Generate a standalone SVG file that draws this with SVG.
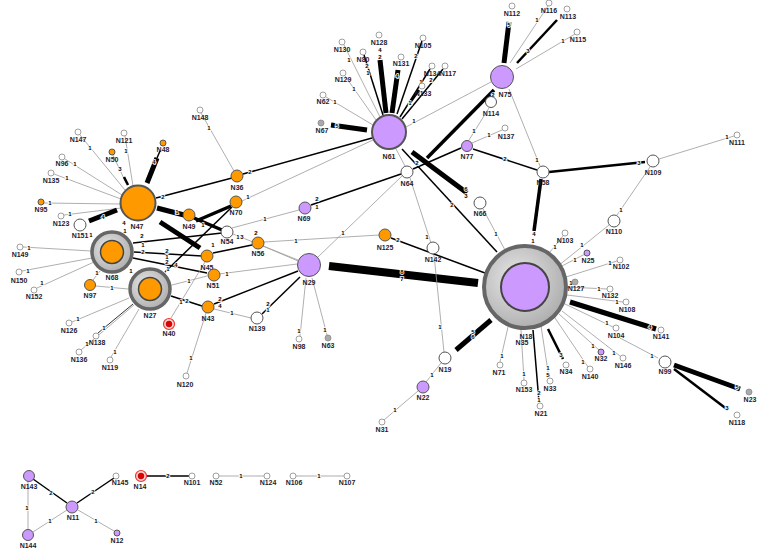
<svg xmlns="http://www.w3.org/2000/svg" width="768" height="554" viewBox="0 0 768 554">
<style>
.g{stroke:#9a9a9a;stroke-width:0.8;fill:none}
.b{stroke:#000;stroke-width:1.5;fill:none}
.b2{stroke:#000;stroke-width:2.5;fill:none}
.b3{stroke:#000;stroke-width:3.5;fill:none}
.b4{stroke:#000;stroke-width:5;fill:none}
.b5{stroke:#000;stroke-width:8;fill:none}
.nl{font-family:"Liberation Sans",Arial,sans-serif;font-weight:bold;font-size:7px;fill:#1c1c30;text-anchor:middle}
.el{font-family:"Liberation Sans",Arial,sans-serif;font-weight:bold;font-size:6px;fill:#000;text-anchor:middle;stroke:#fff;stroke-width:1.6;paint-order:stroke}
.o{fill:#ff9900;stroke:#555;stroke-width:1}
.p{fill:#cc99ff;stroke:#555;stroke-width:1}
.w{fill:#fff;stroke:#555;stroke-width:1}
.ws{fill:#fff;stroke:#888;stroke-width:0.8}
.gs{fill:#aaa;stroke:#888;stroke-width:0.8}
.ring{fill:url(#rg);stroke:#666}
</style>
<defs>
<radialGradient id="rg" cx="0.4" cy="0.4" r="0.7">
<stop offset="0" stop-color="#e8e8e8"/><stop offset="1" stop-color="#a8a8a8"/>
</radialGradient>
</defs>
<rect width="768" height="554" fill="#fff"/>
<g id="connectors">
<!-- N47 cluster -->
<line class="g" x1="80" y1="135" x2="125" y2="190"/>
<line class="g" x1="65" y1="159" x2="122" y2="195"/>
<line class="g" x1="54" y1="174" x2="121" y2="199"/>
<line class="g" x1="44" y1="203" x2="120" y2="204"/>
<line class="g" x1="64" y1="215" x2="121" y2="208"/>
<line class="g" x1="125" y1="136" x2="133" y2="186"/>
<line class="g" x1="113" y1="155" x2="126" y2="183"/>
<line class="b2" x1="124" y1="177" x2="128" y2="185"/>
<line class="b4" x1="147" y1="183" x2="157" y2="158"/>
<line class="b" x1="157" y1="158" x2="160" y2="151"/>
<line class="b4" x1="89" y1="221" x2="117" y2="210"/>
<line class="g" x1="201" y1="113" x2="234" y2="171"/>
<line class="b" x1="156" y1="198" x2="232" y2="178"/>
<line class="b4" x1="157" y1="208" x2="184" y2="215"/>
<line class="b3" x1="194" y1="218" x2="222" y2="230"/>
<line class="b4" x1="160" y1="222" x2="200" y2="248"/>
<line class="b3" x1="231" y1="206" x2="196" y2="221"/>
<!-- N68 / N27 cluster -->
<line class="g" x1="23" y1="247" x2="91" y2="251"/>
<line class="g" x1="22" y1="271" x2="92" y2="258"/>
<line class="g" x1="37" y1="288" x2="94" y2="262"/>
<line class="g" x1="93" y1="280" x2="100" y2="271"/>
<line class="g" x1="96" y1="286" x2="128" y2="289"/>
<line class="b" x1="133" y1="243" x2="222" y2="233"/>
<line class="b" x1="134" y1="252" x2="202" y2="256"/>
<line class="b" x1="133" y1="258" x2="207" y2="273"/>
<line class="b" x1="165" y1="272" x2="232" y2="207"/>
<line class="g" x1="72" y1="322" x2="129" y2="298"/>
<line class="b" style="stroke-width:0.8" x1="98" y1="333" x2="133" y2="304"/>
<line class="g" x1="81" y1="350" x2="134" y2="305"/>
<line class="g" x1="111" y1="357" x2="139" y2="309"/>
<line class="g" x1="172" y1="285" x2="207" y2="276"/>
<line class="b" x1="171" y1="296" x2="202" y2="306"/>
<line class="g" x1="171" y1="318" x2="205" y2="262"/>
<!-- N43 / N29 -->
<line class="g" x1="206" y1="313" x2="187" y2="373"/>
<line class="g" x1="214" y1="309" x2="251" y2="318"/>
<line class="b" x1="214" y1="304" x2="298" y2="271"/>
<line class="g" x1="219" y1="274" x2="297" y2="264"/>
<line class="b" x1="262" y1="314" x2="300" y2="277"/>
<line class="g" x1="306" y1="278" x2="300" y2="336"/>
<line class="g" x1="312" y1="278" x2="327" y2="335"/>
<line class="b5" x1="329" y1="266" x2="478" y2="283"/>
<line class="g" x1="318" y1="257" x2="402" y2="176"/>
<line class="g" x1="232" y1="228" x2="299" y2="210"/>
<line class="b" x1="311" y1="205" x2="401" y2="174"/>
<line class="b" x1="413" y1="169" x2="461" y2="148"/>
<line class="g" x1="264" y1="242" x2="379" y2="235"/>
<line class="g" x1="263" y1="246" x2="298" y2="261"/>
<line class="g" x1="233" y1="234" x2="298" y2="260"/>
<line class="b" x1="213" y1="253" x2="252" y2="245"/>
<line class="b" x1="243" y1="174" x2="372" y2="138"/>
<line class="g" x1="242" y1="201" x2="373" y2="140"/>
<!-- N61 cluster -->
<line class="g" x1="344" y1="45" x2="380" y2="117"/>
<line class="b" x1="364" y1="55" x2="383" y2="115"/>
<line class="b4" x1="380" y1="60" x2="386" y2="113"/>
<line class="b4" x1="398" y1="70" x2="392" y2="113"/>
<line class="b" x1="422" y1="41" x2="397" y2="114"/>
<line class="b" x1="430" y1="69" x2="400" y2="117"/>
<line class="b" x1="443" y1="69" x2="402" y2="119"/>
<line class="b2" x1="409" y1="104" x2="419" y2="90"/>
<line class="g" x1="345" y1="76" x2="376" y2="120"/>
<line class="g" x1="326" y1="97" x2="373" y2="125"/>
<line class="b4" x1="331" y1="125" x2="367" y2="130"/>
<line class="g" x1="406" y1="127" x2="491" y2="82"/>
<line class="g" x1="396" y1="149" x2="405" y2="166"/>
<line class="g" x1="410" y1="178" x2="431" y2="243"/>
<line class="b" x1="402" y1="149" x2="497" y2="252"/>
<line class="b4" x1="412" y1="152" x2="467" y2="193"/>
<line class="b3" x1="427" y1="158" x2="494" y2="90"/>
<line class="b" x1="391" y1="238" x2="485" y2="273"/>
<line class="g" x1="434" y1="255" x2="444" y2="352"/>
<line class="g" x1="483" y1="209" x2="505" y2="250"/>
<!-- N75 / N58 -->
<line class="b4" x1="504" y1="63" x2="509" y2="22"/>
<line class="g" x1="510" y1="63" x2="548" y2="6"/>
<line class="b2" x1="517" y1="63" x2="557" y2="20"/>
<line class="g" x1="516" y1="69" x2="575" y2="34"/>
<line class="g" x1="489" y1="108" x2="469" y2="140"/>
<line class="g" x1="472" y1="143" x2="502" y2="130"/>
<line class="b" x1="473" y1="149" x2="537" y2="170"/>
<line class="g" x1="509" y1="89" x2="540" y2="166"/>
<line class="b3" x1="541" y1="179" x2="534" y2="231"/>
<line class="b2" x1="549" y1="172" x2="645" y2="162"/>
<line class="g" x1="659" y1="159" x2="734" y2="136"/>
<line class="g" x1="650" y1="167" x2="617" y2="215"/>
<line class="g" x1="609" y1="225" x2="558" y2="266"/>
<!-- N18 cluster -->
<line class="g" x1="563" y1="236" x2="550" y2="252"/>
<line class="g" x1="585" y1="254" x2="562" y2="266"/>
<line class="g" x1="617" y1="261" x2="566" y2="277"/>
<line class="g" x1="568" y1="287" x2="607" y2="289"/>
<line class="g" x1="567" y1="295" x2="623" y2="302"/>
<line class="b4" x1="570" y1="302" x2="656" y2="329"/>
<line class="g" x1="565" y1="304" x2="613" y2="327"/>
<line class="g" x1="620" y1="338" x2="658" y2="358"/>
<line class="g" x1="562" y1="311" x2="620" y2="356"/>
<line class="g" x1="559" y1="314" x2="599" y2="350"/>
<line class="g" x1="555" y1="318" x2="588" y2="367"/>
<line class="b2" x1="548" y1="329" x2="563" y2="359"/>
<line class="g" x1="541" y1="326" x2="549" y2="378"/>
<line class="b" x1="533" y1="330" x2="539" y2="402"/>
<line class="g" x1="521" y1="330" x2="524" y2="380"/>
<line class="g" x1="508" y1="327" x2="500" y2="362"/>
<line class="b4" x1="456" y1="350" x2="491" y2="320"/>
<line class="g" x1="441" y1="363" x2="426" y2="382"/>
<line class="g" x1="418" y1="391" x2="384" y2="420"/>
<line class="b4" x1="674" y1="365" x2="740" y2="389"/>
<line class="b2" x1="674" y1="369" x2="728" y2="410"/>
<!-- bottom components -->
<line class="g" x1="28" y1="481" x2="28" y2="529"/>
<line class="b" x1="33" y1="479" x2="67" y2="503"/>
<line class="b" x1="77" y1="503" x2="114" y2="478"/>
<line class="g" x1="67" y1="510" x2="33" y2="532"/>
<line class="g" x1="78" y1="510" x2="114" y2="531"/>
<line class="b" x1="146" y1="476" x2="189" y2="476"/>
<line class="g" x1="219" y1="476" x2="264" y2="476"/>
<line class="g" x1="296" y1="476" x2="344" y2="476"/>
</g>
<g id="edge-labels">
<text class="el" x="90" y="150">1</text>
<text class="el" x="75" y="166">1</text>
<text class="el" x="67" y="180">1</text>
<text class="el" x="50" y="205">1</text>
<text class="el" x="70" y="216">1</text>
<text class="el" x="126" y="153">1</text>
<text class="el" x="120" y="171">3</text>
<text class="el" x="154" y="164">4</text>
<text class="el" x="103" y="219">4</text>
<text class="el" x="91" y="237">1</text>
<text class="el" x="209" y="130">1</text>
<text class="el" x="163" y="199">2</text>
<text class="el" x="177" y="214">1</text>
<text class="el" x="203" y="227">1</text>
<text class="el" x="124" y="225">4</text>
<text class="el" x="125" y="233">1</text>
<text class="el" x="29" y="250">1</text>
<text class="el" x="28" y="273">1</text>
<text class="el" x="42" y="285">1</text>
<text class="el" x="97" y="275">1</text>
<text class="el" x="112" y="290">1</text>
<text class="el" x="131" y="273">1</text>
<text class="el" x="142" y="238">2</text>
<text class="el" x="143" y="247">1</text>
<text class="el" x="143" y="254">2</text>
<text class="el" x="167" y="253">2</text>
<text class="el" x="167" y="259">1</text>
<text class="el" x="167" y="264">2</text>
<text class="el" x="176" y="267">4</text>
<text class="el" x="168" y="271">1</text>
<text class="el" x="78" y="321">1</text>
<text class="el" x="104" y="330">1</text>
<text class="el" x="87" y="346">1</text>
<text class="el" x="115" y="354">1</text>
<text class="el" x="189" y="283">1</text>
<text class="el" x="181" y="304">1</text>
<text class="el" x="187" y="303">2</text>
<text class="el" x="191" y="360">1</text>
<text class="el" x="232" y="315">1</text>
<text class="el" x="220" y="301">2</text>
<text class="el" x="220" y="308">4</text>
<text class="el" x="227" y="276">1</text>
<text class="el" x="268" y="306">2</text>
<text class="el" x="268" y="312">1</text>
<text class="el" x="299" y="333">1</text>
<text class="el" x="325" y="332">1</text>
<text class="el" x="402" y="274">8</text>
<text class="el" x="402" y="281">7</text>
<text class="el" x="343" y="235">1</text>
<text class="el" x="265" y="221">1</text>
<text class="el" x="317" y="201">2</text>
<text class="el" x="317" y="209">1</text>
<text class="el" x="296" y="243">1</text>
<text class="el" x="238" y="239">1</text>
<text class="el" x="242" y="239">3</text>
<text class="el" x="213" y="247">1</text>
<text class="el" x="256" y="235">2</text>
<text class="el" x="250" y="174">2</text>
<text class="el" x="248" y="199">1</text>
<text class="el" x="349" y="62">1</text>
<text class="el" x="367" y="68">2</text>
<text class="el" x="368" y="75">1</text>
<text class="el" x="380" y="52">4</text>
<text class="el" x="380" y="59">2</text>
<text class="el" x="397" y="78">4</text>
<text class="el" x="416" y="58">2</text>
<text class="el" x="421" y="84">1</text>
<text class="el" x="431" y="82">2</text>
<text class="el" x="410" y="105">1</text>
<text class="el" x="354" y="91">1</text>
<text class="el" x="335" y="104">1</text>
<text class="el" x="337" y="128">5</text>
<text class="el" x="414" y="123">1</text>
<text class="el" x="427" y="239">1</text>
<text class="el" x="452" y="207">2</text>
<text class="el" x="466" y="191">6</text>
<text class="el" x="466" y="198">3</text>
<text class="el" x="417" y="165">2</text>
<text class="el" x="398" y="242">2</text>
<text class="el" x="440" y="329">1</text>
<text class="el" x="496" y="236">1</text>
<text class="el" x="509" y="27">5</text>
<text class="el" x="537" y="22">1</text>
<text class="el" x="528" y="53">3</text>
<text class="el" x="563" y="43">1</text>
<text class="el" x="493" y="97">2</text>
<text class="el" x="474" y="133">1</text>
<text class="el" x="489" y="137">1</text>
<text class="el" x="505" y="161">2</text>
<text class="el" x="537" y="162">1</text>
<text class="el" x="534" y="236">4</text>
<text class="el" x="533" y="243">1</text>
<text class="el" x="639" y="165">3</text>
<text class="el" x="727" y="139">1</text>
<text class="el" x="621" y="212">1</text>
<text class="el" x="582" y="247">1</text>
<text class="el" x="555" y="249">1</text>
<text class="el" x="575" y="262">1</text>
<text class="el" x="610" y="265">1</text>
<text class="el" x="571" y="285">1</text>
<text class="el" x="599" y="291">1</text>
<text class="el" x="617" y="304">1</text>
<text class="el" x="650" y="329">4</text>
<text class="el" x="607" y="325">1</text>
<text class="el" x="652" y="358">1</text>
<text class="el" x="614" y="355">1</text>
<text class="el" x="593" y="348">1</text>
<text class="el" x="583" y="364">1</text>
<text class="el" x="561" y="357">3</text>
<text class="el" x="548" y="370">1</text>
<text class="el" x="548" y="377">5</text>
<text class="el" x="539" y="395">2</text>
<text class="el" x="539" y="402">1</text>
<text class="el" x="524" y="376">1</text>
<text class="el" x="502" y="358">1</text>
<text class="el" x="473" y="334">5</text>
<text class="el" x="473" y="339">6</text>
<text class="el" x="432" y="377">1</text>
<text class="el" x="395" y="412">1</text>
<text class="el" x="737" y="389">5</text>
<text class="el" x="727" y="410">3</text>
<text class="el" x="27" y="510">1</text>
<text class="el" x="51" y="495">2</text>
<text class="el" x="93" y="494">2</text>
<text class="el" x="50" y="523">1</text>
<text class="el" x="96" y="523">1</text>
<text class="el" x="168" y="478">2</text>
<text class="el" x="241" y="478">1</text>
<text class="el" x="319" y="478">1</text>
</g>
<!-- nodes -->
<g id="N18"><circle class="ring" cx="525" cy="287" r="41" stroke-width="4"/><circle cx="525" cy="287" r="24" fill="#cc99ff" stroke="#444" stroke-width="2"/><text class="nl" x="526" y="339">N18</text></g>
<g id="N35"><text class="nl" x="522" y="345">N35</text></g>
<g id="N68"><circle class="ring" cx="112" cy="252" r="20" stroke-width="3.5"/><circle cx="112" cy="252" r="11.5" fill="#ff9900" stroke="#444" stroke-width="1.5"/><text class="nl" x="112" y="280">N68</text></g>
<g id="N27"><circle class="ring" cx="150" cy="289" r="20" stroke-width="3.5"/><circle cx="150" cy="289" r="11.5" fill="#ff9900" stroke="#444" stroke-width="1.5"/><text class="nl" x="150" y="318">N27</text></g>
<g id="N47"><circle cx="138" cy="203" r="17.5" fill="#ff9900" stroke="#555" stroke-width="2"/><text class="nl" x="137" y="229">N47</text></g>
<g id="N61"><circle cx="389" cy="132" r="17" fill="#cc99ff" stroke="#555" stroke-width="2"/><text class="nl" x="389" y="159">N61</text></g>
<g id="N75"><circle class="p" cx="502" cy="77" r="11.5" stroke-width="1.5"/><text class="nl" x="505" y="97">N75</text></g>
<g id="N29"><circle class="p" cx="309" cy="265" r="11.5" stroke-width="1.5"/><text class="nl" x="309" y="285">N29</text></g>
<g id="N49"><circle class="o" cx="189" cy="215" r="6"/><text class="nl" x="189" y="229">N49</text></g>
<g id="N36"><circle class="o" cx="237" cy="176" r="6"/><text class="nl" x="237" y="190">N36</text></g>
<g id="N70"><circle class="o" cx="236" cy="202" r="6"/><text class="nl" x="236" y="215">N70</text></g>
<g id="N69"><circle class="p" cx="305" cy="208" r="6"/><text class="nl" x="304" y="221">N69</text></g>
<g id="N54"><circle class="w" cx="227" cy="232" r="6"/><text class="nl" x="227" y="244">N54</text></g>
<g id="N56"><circle class="o" cx="258" cy="243" r="6"/><text class="nl" x="258" y="256">N56</text></g>
<g id="N45"><circle class="o" cx="207" cy="256" r="6"/><text class="nl" x="207" y="270">N45</text></g>
<g id="N51"><circle class="o" cx="214" cy="275" r="6"/><text class="nl" x="213" y="288">N51</text></g>
<g id="N43"><circle class="o" cx="208" cy="307" r="6"/><text class="nl" x="208" y="321">N43</text></g>
<g id="N139"><circle class="w" cx="257" cy="318" r="6"/><text class="nl" x="257" y="331">N139</text></g>
<g id="N97"><circle class="o" cx="90" cy="285" r="5.5"/><text class="nl" x="90" y="298">N97</text></g>
<g id="N40"><circle cx="169" cy="324" r="5.5" fill="#ffd0d0" stroke="#ee3333" stroke-width="1.2"/><circle cx="169" cy="324" r="3" fill="#e00000" stroke="#900" stroke-width="0.5"/><text class="nl" x="169" y="336">N40</text></g>
<g id="N151"><circle class="w" cx="80" cy="225" r="6"/><text class="nl" x="80" y="238">N151</text></g>
<g id="N123"><circle class="ws" cx="61" cy="216" r="3"/><text class="nl" x="61" y="226">N123</text></g>
<g id="N95"><circle class="o" cx="41" cy="202" r="3" stroke-width="0.6"/><text class="nl" x="41" y="212">N95</text></g>
<g id="N135"><circle class="ws" cx="51" cy="173" r="3"/><text class="nl" x="51" y="183">N135</text></g>
<g id="N96"><circle class="ws" cx="62" cy="157" r="3"/><text class="nl" x="62" y="166">N96</text></g>
<g id="N147"><circle class="ws" cx="78" cy="132" r="3"/><text class="nl" x="78" y="142">N147</text></g>
<g id="N121"><circle class="ws" cx="124" cy="133" r="3"/><text class="nl" x="124" y="143">N121</text></g>
<g id="N50"><circle class="o" cx="112" cy="152" r="3" stroke-width="0.6"/><text class="nl" x="112" y="162">N50</text></g>
<g id="N48"><circle class="o" cx="163" cy="143" r="3" stroke-width="0.6"/><text class="nl" x="163" y="152">N48</text></g>
<g id="N148"><circle class="ws" cx="200" cy="110" r="3"/><text class="nl" x="200" y="120">N148</text></g>
<g id="N149"><circle class="ws" cx="20" cy="247" r="3"/><text class="nl" x="20" y="257">N149</text></g>
<g id="N150"><circle class="ws" cx="19" cy="272" r="3"/><text class="nl" x="19" y="283">N150</text></g>
<g id="N152"><circle class="ws" cx="34" cy="290" r="3"/><text class="nl" x="34" y="299">N152</text></g>
<g id="N126"><circle class="ws" cx="69" cy="323" r="3"/><text class="nl" x="69" y="333">N126</text></g>
<g id="N138"><circle class="ws" cx="96" cy="336" r="3"/><text class="nl" x="97" y="345">N138</text></g>
<g id="N136"><circle class="ws" cx="79" cy="352" r="3"/><text class="nl" x="79" y="362">N136</text></g>
<g id="N119"><circle class="ws" cx="110" cy="360" r="3"/><text class="nl" x="110" y="370">N119</text></g>
<g id="N120"><circle class="ws" cx="186" cy="376" r="3"/><text class="nl" x="185" y="387">N120</text></g>
<g id="N98"><circle class="ws" cx="299" cy="339" r="3"/><text class="nl" x="299" y="349">N98</text></g>
<g id="N63"><circle class="gs" cx="328" cy="338" r="3"/><text class="nl" x="328" y="348">N63</text></g>
<g id="N67"><circle class="gs" cx="321" cy="123" r="3"/><text class="nl" x="322" y="133">N67</text></g>
<g id="N62"><circle class="ws" cx="323" cy="95" r="3"/><text class="nl" x="323" y="104">N62</text></g>
<g id="N129"><circle class="ws" cx="343" cy="73" r="3"/><text class="nl" x="343" y="82">N129</text></g>
<g id="N130"><circle class="ws" cx="342" cy="42" r="3"/><text class="nl" x="342" y="52">N130</text></g>
<g id="N80"><circle class="ws" cx="363" cy="52" r="3"/><text class="nl" x="363" y="62">N80</text></g>
<g id="N128"><circle class="ws" cx="379" cy="35" r="3"/><text class="nl" x="379" y="45">N128</text></g>
<g id="N131"><circle class="ws" cx="401" cy="57" r="3"/><text class="nl" x="401" y="66">N131</text></g>
<g id="N105"><circle class="ws" cx="423" cy="38" r="3"/><text class="nl" x="423" y="48">N105</text></g>
<g id="N134"><circle class="ws" cx="432" cy="66" r="3"/><text class="nl" x="432" y="76">N134</text></g>
<g id="N117"><circle class="ws" cx="445" cy="66" r="3"/><text class="nl" x="448" y="76">N117</text></g>
<g id="N133"><circle class="ws" cx="422" cy="86" r="3"/><text class="nl" x="423" y="96">N133</text></g>
<g id="N112"><circle class="ws" cx="512" cy="6" r="3"/><text class="nl" x="512" y="16">N112</text></g>
<g id="N116"><circle class="ws" cx="549" cy="3" r="3"/><text class="nl" x="549" y="13">N116</text></g>
<g id="N113"><circle class="ws" cx="567" cy="9" r="3"/><text class="nl" x="568" y="19">N113</text></g>
<g id="N115"><circle class="ws" cx="577" cy="32" r="3"/><text class="nl" x="578" y="42">N115</text></g>
<g id="N114"><circle class="w" cx="491" cy="102" r="5.5"/><text class="nl" x="491" y="116">N114</text></g>
<g id="N77"><circle class="p" cx="467" cy="146" r="5.5"/><text class="nl" x="467" y="159">N77</text></g>
<g id="N137"><circle class="ws" cx="505" cy="128" r="3"/><text class="nl" x="506" y="139">N137</text></g>
<g id="N58"><circle class="w" cx="543" cy="172" r="6"/><text class="nl" x="543" y="185">N58</text></g>
<g id="N64"><circle class="w" cx="407" cy="172" r="6"/><text class="nl" x="407" y="186">N64</text></g>
<g id="N66"><circle class="w" cx="480" cy="203" r="6"/><text class="nl" x="480" y="216">N66</text></g>
<g id="N125"><circle class="o" cx="385" cy="235" r="6"/><text class="nl" x="385" y="250">N125</text></g>
<g id="N142"><circle class="w" cx="433" cy="248" r="6"/><text class="nl" x="433" y="262">N142</text></g>
<g id="N109"><circle class="w" cx="653" cy="161" r="6"/><text class="nl" x="653" y="175">N109</text></g>
<g id="N111"><circle class="ws" cx="737" cy="135" r="3"/><text class="nl" x="737" y="145">N111</text></g>
<g id="N110"><circle class="w" cx="614" cy="221" r="6"/><text class="nl" x="614" y="234">N110</text></g>
<g id="N103"><circle class="ws" cx="565" cy="233" r="3"/><text class="nl" x="565" y="243">N103</text></g>
<g id="N25"><circle class="p" cx="587" cy="253" r="3" stroke-width="0.6"/><text class="nl" x="588" y="263">N25</text></g>
<g id="N102"><circle class="ws" cx="620" cy="260" r="3"/><text class="nl" x="621" y="269">N102</text></g>
<g id="N127"><circle class="gs" cx="575" cy="282" r="3"/><text class="nl" x="576" y="291">N127</text></g>
<g id="N132"><circle class="ws" cx="610" cy="289" r="3"/><text class="nl" x="610" y="298">N132</text></g>
<g id="N108"><circle class="ws" cx="626" cy="302" r="3"/><text class="nl" x="627" y="312">N108</text></g>
<g id="N141"><circle class="ws" cx="661" cy="330" r="3"/><text class="nl" x="661" y="339">N141</text></g>
<g id="N104"><circle class="ws" cx="616" cy="328" r="3"/><text class="nl" x="616" y="338">N104</text></g>
<g id="N146"><circle class="ws" cx="623" cy="358" r="3"/><text class="nl" x="623" y="368">N146</text></g>
<g id="N32"><circle class="p" cx="601" cy="352" r="3" stroke-width="0.6"/><text class="nl" x="601" y="361">N32</text></g>
<g id="N99"><circle class="w" cx="665" cy="362" r="6"/><text class="nl" x="665" y="374">N99</text></g>
<g id="N23"><circle class="gs" cx="749" cy="392" r="3"/><text class="nl" x="750" y="402">N23</text></g>
<g id="N118"><circle class="ws" cx="737" cy="415" r="3"/><text class="nl" x="737" y="425">N118</text></g>
<g id="N140"><circle class="ws" cx="590" cy="369" r="3"/><text class="nl" x="590" y="379">N140</text></g>
<g id="N34"><circle class="ws" cx="566" cy="365" r="3"/><text class="nl" x="566" y="374">N34</text></g>
<g id="N33"><circle class="ws" cx="550" cy="381" r="3"/><text class="nl" x="550" y="391">N33</text></g>
<g id="N21"><circle class="ws" cx="540" cy="406" r="3"/><text class="nl" x="541" y="416">N21</text></g>
<g id="N153"><circle class="ws" cx="524" cy="383" r="3"/><text class="nl" x="524" y="392">N153</text></g>
<g id="N71"><circle class="ws" cx="500" cy="365" r="3"/><text class="nl" x="499" y="375">N71</text></g>
<g id="N19"><circle class="w" cx="445" cy="358" r="6"/><text class="nl" x="445" y="372">N19</text></g>
<g id="N22"><circle class="p" cx="423" cy="387" r="6"/><text class="nl" x="423" y="400">N22</text></g>
<g id="N31"><circle class="ws" cx="382" cy="422" r="3"/><text class="nl" x="382" y="432">N31</text></g>
<g id="N143"><circle class="p" cx="29" cy="476" r="5.5"/><text class="nl" x="29" y="489">N143</text></g>
<g id="N144"><circle class="p" cx="28" cy="535" r="5.5"/><text class="nl" x="28" y="548">N144</text></g>
<g id="N11"><circle class="p" cx="72" cy="507" r="6"/><text class="nl" x="73" y="520">N11</text></g>
<g id="N12"><circle class="p" cx="117" cy="533" r="3" stroke-width="0.6"/><text class="nl" x="117" y="543">N12</text></g>
<g id="N145"><circle class="ws" cx="116" cy="476" r="3"/><text class="nl" x="120" y="485">N145</text></g>
<g id="N14"><circle cx="141" cy="476" r="5.5" fill="#ffd0d0" stroke="#ee3333" stroke-width="1.2"/><circle cx="141" cy="476" r="3" fill="#e00000" stroke="#900" stroke-width="0.5"/><text class="nl" x="140" y="489">N14</text></g>
<g id="N101"><circle class="ws" cx="192" cy="476" r="3"/><text class="nl" x="192" y="485">N101</text></g>
<g id="N52"><circle class="ws" cx="216" cy="476" r="3"/><text class="nl" x="216" y="485">N52</text></g>
<g id="N124"><circle class="ws" cx="267" cy="476" r="3"/><text class="nl" x="268" y="485">N124</text></g>
<g id="N106"><circle class="ws" cx="293" cy="476" r="3"/><text class="nl" x="294" y="485">N106</text></g>
<g id="N107"><circle class="ws" cx="347" cy="476" r="3"/><text class="nl" x="347" y="485">N107</text></g>
</svg>
